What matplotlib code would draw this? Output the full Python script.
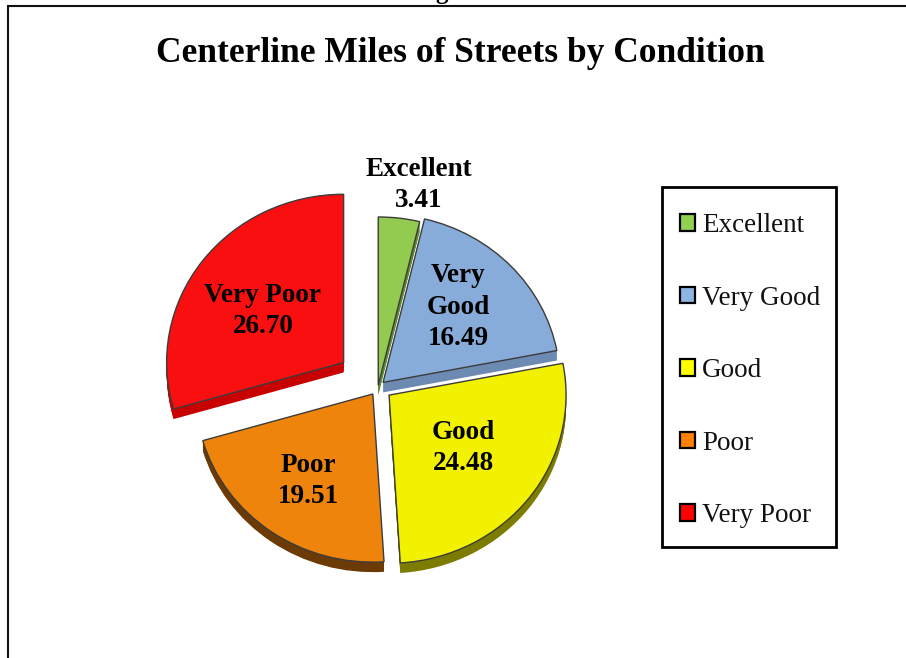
import matplotlib
matplotlib.use("Agg")
import matplotlib.pyplot as plt
from matplotlib.patches import Patch, Rectangle

W, H = 906, 658
title = "Centerline Miles of Streets by Condition"
categories = ["Excellent", "Very Good", "Good", "Poor", "Very Poor"]
values = [3.41, 16.49, 24.48, 19.51, 26.70]
explode = [2, 7, 14, 9, 43]
top_colors = ["#92CB50", "#87ACD9", "#F2F200", "#EE840C", "#FA0F10"]
side_colors = ["#5E8A30", "#6C8AB2", "#7C7C00", "#6B3A05", "#C80000"]
legend_colors = ["#92D050", "#8DB4E2", "#FFFF00", "#FF8000", "#FF0000"]
slice_labels = ["Excellent\n3.41", "Very\nGood\n16.49", "Good\n24.48", "Poor\n19.51", "Very Poor\n26.70"]
label_px = [(419, 185), (458, 307), (463, 448), (308, 481), (263, 311)]

plt.rcParams["font.family"] = ["Liberation Serif", "DejaVu Serif"]
fig = plt.figure(figsize=(W / 100, H / 100), dpi=100)

# pie axes: y squeezed a little for the tilted look
YS = 0.95
ax = fig.add_axes([0, 0, 1, 1])
CX, CY = 378, 387
R = 177
DEPTH = 10
for d in range(DEPTH, 0, -1):
    ax.pie(values, explode=explode, startangle=90, counterclock=False, colors=side_colors,
           radius=R, center=(CX, (H - CY - d) / YS), frame=True,
           wedgeprops=dict(linewidth=0))
wedges, _ = ax.pie(values, explode=explode, startangle=90, counterclock=False, colors=top_colors,
                   radius=R, center=(CX, (H - CY) / YS), frame=True,
                   wedgeprops=dict(linewidth=1.0, edgecolor="#3c3c3c"))
ax.set_aspect("auto")
ax.set_xlim(0, W)
ax.set_ylim(0, H / YS)
ax.axis("off")

# overlay in pixel coordinates for frame and text
ov = fig.add_axes([0, 0, 1, 1], facecolor="none")
ov.set_xlim(0, W)
ov.set_ylim(H, 0)
ov.axis("off")
ov.plot([8, 8, W], [H, 6, 6], color="#111111", lw=1.5, solid_joinstyle="miter")
ov.text(442, -1, "g", ha="center", va="baseline", fontsize=18, fontweight="bold", color="black", clip_on=True)
ov.text(460, 54, title, ha="center", va="center", fontsize=25.5, fontweight="bold", color="black")
for txt, (x, y) in zip(slice_labels, label_px):
    ov.text(x, y, txt, ha="center", va="center", fontsize=19.5, fontweight="bold",
            color="black", linespacing=1.36)

ov.add_patch(Rectangle((662, 187), 174, 360, facecolor="white", edgecolor="black", linewidth=2.0))
handles = [Patch(facecolor=c, edgecolor="black", linewidth=1.6) for c in legend_colors]
leg = ov.legend(handles, categories, loc="upper left",
                bbox_to_anchor=(680 / W, 1 - 213 / H),
                borderaxespad=0, fontsize=19.5, frameon=False, labelspacing=1.755, borderpad=0,
                handlelength=0.56, handleheight=0.56, handletextpad=0.25, labelcolor="#111111")

fig.savefig("out.png", dpi=100, facecolor="white")
